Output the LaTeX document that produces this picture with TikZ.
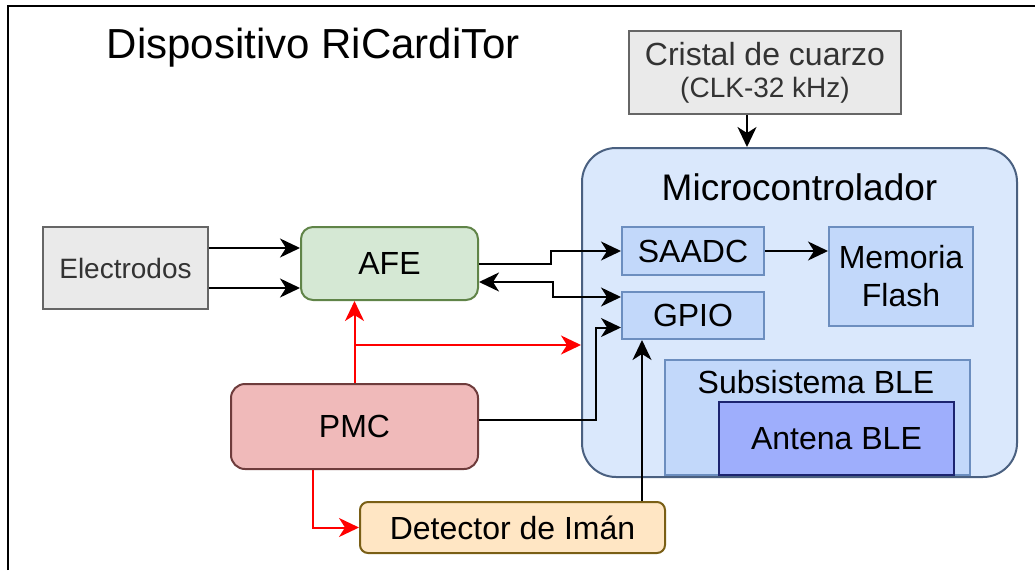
\documentclass[tikz,border=0pt]{standalone}
\usepackage{fontspec}
\setmainfont{Liberation Sans}
\definecolor{rcGrayFill}{RGB}{234,234,234}
\definecolor{rcGrayLine}{RGB}{102,102,102}
\definecolor{rcGrayText}{RGB}{51,51,51}
\definecolor{rcMcuFill}{RGB}{218,232,252}
\definecolor{rcMcuLine}{RGB}{74,96,128}
\definecolor{rcSubFill}{RGB}{194,216,250}
\definecolor{rcSubLine}{RGB}{108,142,191}
\definecolor{rcAntFill}{RGB}{158,174,252}
\definecolor{rcAntLine}{RGB}{28,36,112}
\definecolor{rcAfeFill}{RGB}{213,232,212}
\definecolor{rcAfeLine}{RGB}{96,132,72}
\definecolor{rcPmcFill}{RGB}{240,186,186}
\definecolor{rcPmcLine}{RGB}{110,60,60}
\definecolor{rcDetFill}{RGB}{255,230,196}
\definecolor{rcDetLine}{RGB}{122,95,22}
\usepackage{tikz}
\usetikzlibrary{arrows.meta, positioning, calc}
\newcommand{\txtbig}{\fontsize{32pt}{38pt}\selectfont}
\newcommand{\txtmid}{\fontsize{28pt}{32pt}\selectfont}
\newcommand{\txtmcu}{\fontsize{37pt}{42pt}\selectfont}
\newcommand{\txttitle}{\fontsize{42pt}{48pt}\selectfont}
\tikzset{
  graybox/.style={rectangle, draw=rcGrayLine, fill=rcGrayFill, line width=2pt, inner sep=0pt, align=center, text=rcGrayText},
  subbox/.style={rectangle, draw=rcSubLine, fill=rcSubFill, line width=2pt, inner sep=0pt, align=center, font=\txtbig},
  roundbox/.style={rectangle, rounded corners=12pt, draw=#1Line, fill=#1Fill, line width=2pt, inner sep=0pt, align=center, font=\txtbig},
  roundbox/.default=rcAfe,
  conn/.style={-{Stealth[length=20pt, width=19pt, inset=6pt]}, line width=2pt, black},
  bothconn/.style={{Stealth[length=20pt, width=19pt, inset=6pt]}-{Stealth[length=20pt, width=19pt, inset=6pt]}, line width=2pt, black},
  redconn/.style={-{Stealth[length=20pt, width=19pt, inset=6pt]}, line width=2pt, red},
}
\begin{document}
\begin{tikzpicture}[x=1pt, y=-1pt]
  \useasboundingbox (0,0) rectangle (1035,570);
  \draw[line width=2.5pt] (8,570) -- (8,6) -- (1035,6);

  % Title
  \node[font=\txttitle, anchor=base] (title) at (313.5,58) {Dispositivo RiCardiTor};

  % Clock
  \node[graybox, font=\txtbig, minimum width=272, minimum height=83] (cristal) at (765,72.5) {Cristal de cuarzo\\[-6pt]{\txtmid (CLK-32 kHz)}};

  % Microcontroller
  \node[rectangle, rounded corners=34pt, draw=rcMcuLine, fill=rcMcuFill, line width=2pt, minimum width=435, minimum height=329, inner sep=0pt] (micro) at (799.5,312.5) {};
  \node[font=\txtmcu] (microtitle) at (799.5,187) {Microcontrolador};
  \node[subbox, minimum width=142, minimum height=48] (saadc) at (693,251) {SAADC};
  \node[subbox, minimum width=142, minimum height=47] (gpio) at (693,315.5) {GPIO};
  \node[subbox, minimum width=144, minimum height=99] (memoria) at (901,276.5) {Memoria\\Flash};
  \node[subbox, minimum width=305, minimum height=115] (subble) at (817.5,417.5) {};
  \node[font=\txtbig, anchor=base] (subbletitle) at (816,393) {Subsistema BLE};
  \node[subbox, draw=rcAntLine, fill=rcAntFill, minimum width=235, minimum height=73] (antena) at (836.5,438.5) {Antena BLE};

  % Front end and power
  \node[graybox, font=\txtmid, minimum width=165, minimum height=82] (electrodos) at (125.5,268) {Electrodos};
  \node[roundbox=rcAfe, minimum width=177, minimum height=73] (afe) at (389.5,263.5) {AFE};
  \node[roundbox=rcPmc, rounded corners=14pt, minimum width=247, minimum height=85] (pmc) at (354.5,426.5) {PMC};
  \node[roundbox=rcDet, rounded corners=8pt, minimum width=305, minimum height=51] (detector) at (512.5,527.5) {Detector de Imán};

  % Arrows
  \draw[conn] ([yshift=20pt]electrodos.east) -- ([yshift=20pt]electrodos.east -| afe.west);
  \draw[conn] ([yshift=-20pt]electrodos.east) -- ([yshift=-20pt]electrodos.east -| afe.west);
  \draw[conn] (afe.east) -- ++(72,0) |- (saadc.west);
  \draw[bothconn] ([yshift=-18.5pt]afe.east) -- ++(74,0) |- ([yshift=18.5pt]gpio.west);
  \draw[conn] ([yshift=7pt]pmc.east) -- ++(117,0) |- ([yshift=-12pt]gpio.west);
  \draw[conn] ([xshift=-51pt]gpio.south |- detector.north) -- ([xshift=-51pt]gpio.south);
  \draw[conn] (saadc.east) -- (saadc.east -| memoria.west);
  \draw[conn] ([xshift=-18pt]cristal.south) -- ([xshift=-18pt]cristal.south |- micro.north);

  % Power lines
  \coordinate (split) at ($(pmc.north)+(0,-38)$);
  \draw[redconn] (pmc.north) -- (pmc.north |- afe.south);
  \draw[redconn] (split) -- (split -| micro.west);
  \draw[redconn] ([xshift=-41.5pt]pmc.south) |- (detector.west);
\end{tikzpicture}
\end{document}
